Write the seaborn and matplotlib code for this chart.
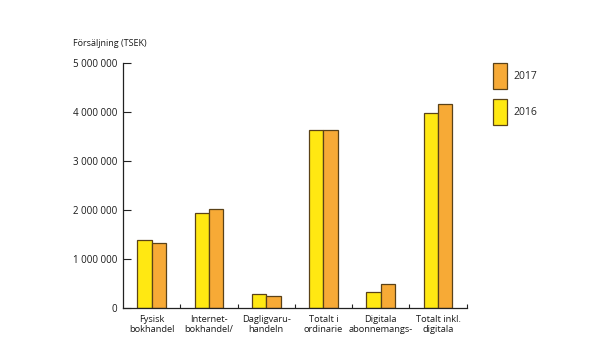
import matplotlib
matplotlib.use("Agg")
import matplotlib.pyplot as plt
import matplotlib.patches as mpatches
import seaborn as sns
import pandas as pd

categories = ["Fysisk\nbokhandel", "Internet-\nbokhandel/", "Dagligvaru-\nhandeln",
              "Totalt i\nordinarie", "Digitala\nabonnemangs-", "Totalt inkl.\ndigitala"]
values_2016 = [1390000, 1940000, 290000, 3640000, 330000, 3990000]
values_2017 = [1330000, 2030000, 250000, 3640000, 500000, 4160000]
years = ["2016", "2017"]
ytick_values = [0, 1000000, 2000000, 3000000, 4000000, 5000000]
ytick_labels = ["0", "1 000 000", "2 000 000", "3 000 000", "4 000 000", "5 000 000"]
ylabel_text = "Försäljning (TSEK)"

colors = {"2016": "#FFE812", "2017": "#F7AA36"}
edge = "#5A4218"

df = pd.DataFrame({
    "cat": categories * 2,
    "year": ["2016"] * len(categories) + ["2017"] * len(categories),
    "value": values_2016 + values_2017,
})

sns.set_theme(style="white")
plt.rcParams["font.family"] = ["Open Sans", "DejaVu Sans"]

fig = plt.figure(figsize=(6, 3.37), dpi=100)
ax = fig.add_axes([123 / 600, 1 - 308.3 / 337, (466.7 - 123) / 600, (308.3 - 63.3) / 337])

sns.barplot(data=df, x="cat", y="value", hue="year", hue_order=years,
            palette=colors, saturation=1, width=0.5, gap=0, edgecolor=edge, linewidth=0.9,
            legend=False, ax=ax, order=categories)

ax.set_xlim(-0.5, len(categories) - 0.5)
ax.set_ylim(0, 5000000)
ax.set_yticks(ytick_values)
ax.set_yticklabels(ytick_labels, fontsize=7, color="#1a1a1a")
ax.set_xticks(range(len(categories)))
ax.set_xticklabels(categories, fontsize=6.7, linespacing=1.15, color="#1a1a1a")
ax.set_xticks([i + 0.5 for i in range(len(categories))], minor=True)
ax.tick_params(axis="x", which="major", length=0, pad=5)
ax.tick_params(axis="x", which="minor", length=3, width=0.8, direction="in", color="#222222", bottom=True)
ax.tick_params(axis="y", which="major", length=6, width=0.8, direction="in", color="#222222", pad=4, left=True)
ax.set_xlabel("")
ax.set_ylabel("")
for s in ["top", "right"]:
    ax.spines[s].set_visible(False)
for s in ["left", "bottom"]:
    ax.spines[s].set_color("#222222")
    ax.spines[s].set_linewidth(0.9)
ax.grid(False)

fig.text(73 / 600, 1 - 44 / 337, ylabel_text, fontsize=6.5, ha="left", va="center", color="#1a1a1a")

handles = [mpatches.Patch(facecolor=colors[y], edgecolor=edge, linewidth=0.9, label=y)
           for y in ["2017", "2016"]]
fig.legend(handles=handles, loc="upper left", bbox_to_anchor=(492.7 / 600, 1 - 63.3 / 337),
           frameon=False, handlelength=1.4, handleheight=3.4,
           labelspacing=1.0, handletextpad=0.6, borderpad=0, borderaxespad=0,
           prop={"size": 7.5})

fig.savefig("out.png", dpi=100, facecolor="white")
